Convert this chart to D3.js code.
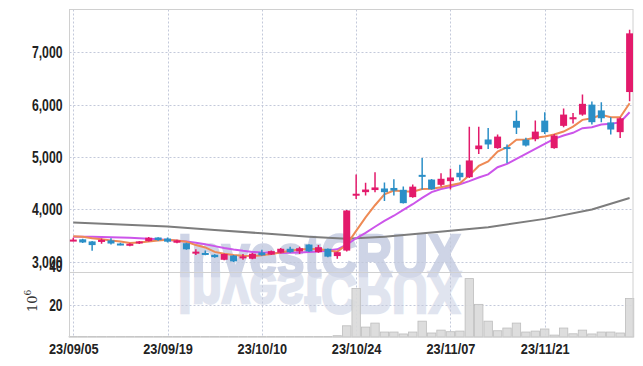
<!DOCTYPE html>
<html>
<head>
<meta charset="utf-8">
<script src="https://cdn.jsdelivr.net/npm/d3@7"></script>
<style>
  body { margin: 0; background: #fff; }
  .tick text { font-family: 'Liberation Sans', 'Noto Sans', sans-serif; font-weight: bold; fill: #222; }
</style>
</head>
<body>
<script>
// trading days (yy/mm/dd)
var dates = ['23/09/05','23/09/06','23/09/07','23/09/08','23/09/11','23/09/12','23/09/13','23/09/14','23/09/15','23/09/18',
  '23/09/19','23/09/20','23/09/21','23/09/22','23/09/25','23/09/26','23/09/27','23/10/04','23/10/05','23/10/06',
  '23/10/10','23/10/11','23/10/12','23/10/13','23/10/16','23/10/17','23/10/18','23/10/19','23/10/20','23/10/23',
  '23/10/24','23/10/25','23/10/26','23/10/27','23/10/30','23/10/31','23/11/01','23/11/02','23/11/03','23/11/06',
  '23/11/07','23/11/08','23/11/09','23/11/10','23/11/13','23/11/14','23/11/15','23/11/16','23/11/17','23/11/20',
  '23/11/21','23/11/22','23/11/23','23/11/24','23/11/27','23/11/28','23/11/29','23/11/30','23/12/01','23/12/04'];

var open  = [3415,3430,3390,3380,3410,3350,3310,3365,3395,3465, 3445,3365,3355,3180,3170,3135,3040,3120,3095,3060,
             3180,3140,3175,3250,3200,3330,3185,3250,3110,3215, 4290,4330,4370,4400,4410,4375,4235,4660,4570,4470,
             4540,4700,4615,5150,5335,5170,5190,5690,5330,5340, 5695,5170,5595,5720,5810,6000,5890,5660,5475,6240];
var high  = [3460,3440,3400,3445,3450,3365,3355,3400,3475,3470, 3465,3420,3365,3240,3215,3145,3160,3130,3150,3170,
             3230,3215,3265,3290,3290,3335,3320,3255,3195,3990, 4665,4510,4710,4515,4575,4440,4475,4980,4580,4690,
             4775,4855,5580,5580,5555,5430,5240,5890,5370,5695, 5855,5440,5925,5840,6195,6060,6045,5760,5760,7430];
var low   = [3395,3360,3210,3345,3330,3315,3300,3340,3390,3405, 3370,3355,3230,3130,3125,3080,3030,2995,3040,3050,
             3115,3130,3165,3175,3150,3190,3175,3090,3060,3200, 4200,4265,4330,4160,4265,4115,4225,4380,4375,4440,
             4380,4550,4600,5060,5155,5160,4880,5440,5200,5300, 5440,5160,5570,5640,5790,5620,5665,5430,5365,6065];
var close = [3425,3370,3320,3420,3350,3330,3345,3390,3460,3415, 3385,3410,3240,3195,3135,3090,3150,3010,3105,3155,
             3125,3205,3250,3185,3260,3200,3280,3100,3185,3980, 4300,4380,4420,4330,4360,4120,4435,4645,4385,4585,
             4610,4615,4935,5220,5240,5390,5160,5560,5220,5485, 5475,5410,5810,5760,6015,5665,5740,5525,5740,7360];

// volume, millions of shares
var volume = [0.3,0.3,0.3,0.3,0.3,0.3,0.3,0.3,0.3,0.3, 0.3,0.3,0.3,0.3,0.3,0.3,0.3,0.3,0.3,0.3,
              0.3,0.3,0.3,0.3,0.3,0.3,0.3,0.3,0.8,7.0, 30.3,6.2,8.7,3.1,3.1,1.9,3.1,9.9,2.5,4.3,
              3.3,3.7,36.5,20.4,9.9,3.9,5.6,8.7,3.1,3.7, 5.0,1.2,5.6,2.0,4.3,1.9,3.1,3.1,2.5,24.1];

// moving averages
var ma5  = [3490,3478,3452,3433,3408,3390,3360,3370,3390,3408, 3420,3408,3383,3320,3275,3190,3155,3130,3115,3110,
            3125,3150,3180,3210,3235,3245,3245,3215,3195,3330, 3590,3850,4080,4290,4360,4345,4340,4390,4395,4425,
            4460,4500,4650,4830,4915,5105,5187,5329,5334,5367, 5392,5430,5487,5582,5710,5741,5806,5760,5760,6027];
var ma20 = [3480,3480,3478,3474,3470,3465,3458,3450,3440,3430, 3418,3405,3390,3365,3335,3300,3265,3235,3210,3190,
            3180,3172,3170,3172,3180,3190,3200,3215,3240,3330, 3450,3555,3670,3780,3880,3990,4100,4220,4330,4390,
            4430,4480,4540,4610,4670,4806,4870,4965,5061,5157, 5252,5347,5411,5462,5550,5569,5620,5633,5664,5855];
var ma120Idx = [0,5,10,15,20,25,29,33,38,44,50,55,59];
var ma120    = [3750,3715,3675,3610,3545,3480,3440,3480,3560,3660,3820,4000,4220];

var priceTicks = [3000,4000,5000,6000,7000];
var volTicks = [20,40];
var dateTicks = [0,10,20,30,40,50];

var WIDTH = 643, HEIGHT = 366;
var LEFT = 69.5, RIGHT = 633, TOP = 9.5, SPLIT = 272.5, BOTTOM = 337;
var RED = '#e31a6b', BLUE = '#2b8fc7';

var svg = d3.select('body').append('svg').attr('width', WIDTH).attr('height', HEIGHT);

var x = d3.scaleLinear().domain([-0.4, 59.36]).range([LEFT, RIGHT]);
var yP = d3.scaleLinear().domain([2797, 7815]).range([SPLIT, TOP]);
var yV = d3.scaleLinear().domain([0, 40]).range([BOTTOM, SPLIT + 0.5]);

svg.append('clipPath').attr('id', 'clipP')
    .append('rect').attr('x', LEFT).attr('y', TOP).attr('width', RIGHT - LEFT).attr('height', SPLIT - TOP);

// watermark + reflection
var wm = svg.append('g').attr('font-family', 'Liberation Sans, sans-serif')
    .attr('font-weight', 'bold').attr('font-size', 60).attr('stroke-width', 2.5);
wm.append('text').attr('x', 178).attr('y', 276).attr('fill', '#c6cde2').attr('stroke', '#c6cde2').attr('opacity', 0.85)
    .attr('textLength', 283).attr('lengthAdjust', 'spacingAndGlyphs')
    .text('InvestCRUX');
wm.append('text').attr('x', 178).attr('y', 276).attr('fill', '#d4d9e9').attr('stroke', '#d4d9e9').attr('opacity', 0.7)
    .attr('textLength', 283).attr('lengthAdjust', 'spacingAndGlyphs')
    .attr('transform', 'translate(0,' + (2 * 274) + ') scale(1,-1)')
    .text('InvestCRUX');

// grid
var grid = svg.append('g').attr('stroke', '#c3c9da').attr('stroke-dasharray', '2,2').attr('stroke-width', 1);
grid.selectAll('.hp').data(priceTicks).join('line')
    .attr('x1', LEFT).attr('x2', RIGHT)
    .attr('y1', d => Math.round(yP(d)) + 0.5).attr('y2', d => Math.round(yP(d)) + 0.5);
grid.selectAll('.hv').data([20]).join('line')
    .attr('x1', LEFT).attr('x2', RIGHT)
    .attr('y1', d => Math.round(yV(d)) + 0.5).attr('y2', d => Math.round(yV(d)) + 0.5);
grid.selectAll('.vx').data(dateTicks).join('line')
    .attr('x1', d => Math.round(x(d)) + 0.5).attr('x2', d => Math.round(x(d)) + 0.5)
    .attr('y1', TOP).attr('y2', BOTTOM);

// volume bars
svg.append('g').selectAll('rect').data(volume).join('rect')
    .attr('x', (d, i) => x(i) - 4.2)
    .attr('width', 8.4)
    .attr('y', d => yV(d))
    .attr('height', d => BOTTOM - yV(d))
    .attr('fill', '#d9d9d9')
    .attr('fill-opacity', 0.9)
    .attr('stroke', '#bdbdbd')
    .attr('stroke-width', 0.8);

// frame
var frame = svg.append('g').attr('stroke', '#d0d0d0').attr('stroke-width', 1).attr('fill', 'none');
frame.append('rect').attr('x', LEFT).attr('y', TOP).attr('width', RIGHT - LEFT).attr('height', BOTTOM - TOP);
frame.append('line').attr('x1', LEFT).attr('x2', RIGHT).attr('y1', SPLIT).attr('y2', SPLIT);

// moving averages
var plot = svg.append('g').attr('clip-path', 'url(#clipP)');
var line = d3.line().x((d, i) => x(i)).y(d => yP(d));
plot.append('path').datum(ma120)
    .attr('d', d3.line().x((d, i) => x(ma120Idx[i])).y(d => yP(d)))
    .attr('fill', 'none').attr('stroke', '#7d7d7d').attr('stroke-width', 2);
plot.append('path').datum(ma20).attr('d', line)
    .attr('fill', 'none').attr('stroke', '#cc55ea').attr('stroke-width', 2);
plot.append('path').datum(ma5).attr('d', line)
    .attr('fill', 'none').attr('stroke', '#ee8a55').attr('stroke-width', 2);

// candles
var candle = plot.selectAll('g.candle').data(close).join('g')
    .attr('class', 'candle')
    .attr('fill', (d, i) => d >= open[i] ? RED : BLUE)
    .attr('stroke', (d, i) => d >= open[i] ? RED : BLUE);
candle.append('line')
    .attr('x1', (d, i) => x(i)).attr('x2', (d, i) => x(i))
    .attr('y1', (d, i) => yP(high[i])).attr('y2', (d, i) => yP(low[i]))
    .attr('stroke-width', 1.5);
candle.append('rect')
    .attr('stroke', 'none')
    .attr('x', (d, i) => x(i) - 3.5)
    .attr('width', 7)
    .attr('y', (d, i) => yP(Math.max(d, open[i])))
    .attr('height', (d, i) => Math.max(Math.abs(yP(d) - yP(open[i])), 2));

// axes
var axP = svg.append('g').attr('transform', 'translate(' + (LEFT - 7) + ',0)')
    .call(d3.axisLeft(yP).tickValues(priceTicks).tickSize(0).tickFormat(d3.format(',')));
var axV = svg.append('g').attr('transform', 'translate(' + (LEFT - 7) + ',0)')
    .call(d3.axisLeft(yV).tickValues(volTicks).tickSize(0));
var axX = svg.append('g').attr('transform', 'translate(0,' + BOTTOM + ')')
    .call(d3.axisBottom(x).tickValues(dateTicks).tickSize(0).tickFormat(i => dates[i]));
[axP, axV, axX].forEach(a => a.select('.domain').remove());
axP.selectAll('text').attr('font-size', 17).attr('x', 0).attr('transform', 'scale(0.72,1)');
axV.selectAll('text').attr('font-size', 16).attr('x', 0).attr('transform', 'scale(0.75,1)');
axV.selectAll('.tick').filter(d => d === 40).select('text').attr('dy', '-0.1em');
axX.selectAll('text').attr('font-size', 15).attr('dy', '0.95em').attr('transform', 'scale(0.85,1)');

// unit label
svg.append('text')
    .attr('transform', 'translate(37,312) rotate(-90)')
    .attr('font-family', 'DejaVu Serif, serif').attr('font-size', 13).attr('fill', '#333')
    .text('10')
    .append('tspan').attr('dy', -6).attr('font-size', 9).text('6');
</script>
</body>
</html>
